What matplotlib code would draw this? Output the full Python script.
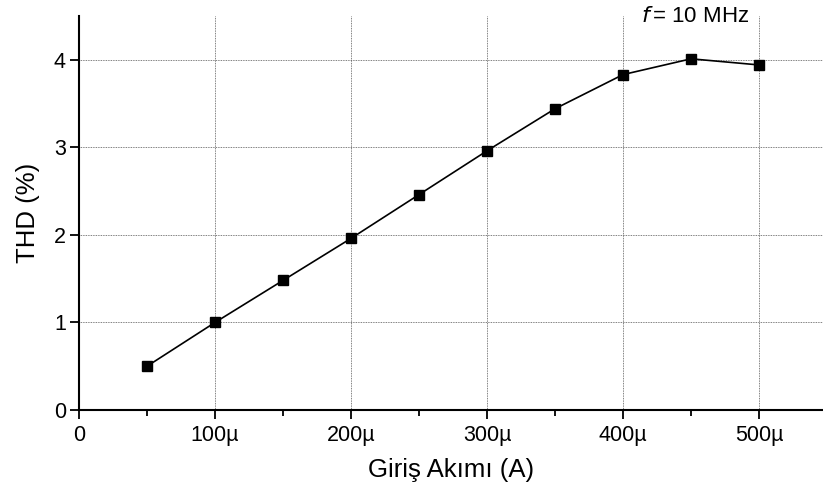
import matplotlib
matplotlib.use("Agg")
import matplotlib.pyplot as plt
from matplotlib.ticker import FuncFormatter, MultipleLocator

plt.rcParams['font.family'] = ['Liberation Sans', 'DejaVu Sans']

# input current in microamps, THD in percent
current_uA = [50, 100, 150, 200, 250, 300, 350, 400, 450, 500]
thd_pct = [0.50, 1.00, 1.48, 1.96, 2.46, 2.96, 3.44, 3.83, 4.01, 3.94]

fig = plt.figure(figsize=(8.23, 4.97), dpi=100)
ax = fig.add_axes([0.096, 0.175, 0.904, 0.793])

ax.plot(current_uA, thd_pct, color="black", lw=1.2, marker="s", ms=7,
        markerfacecolor="black", markeredgecolor="black", zorder=3)

ax.set_xlim(0, 547)
ax.set_ylim(0, 4.5)
ax.xaxis.set_major_locator(MultipleLocator(100))
ax.xaxis.set_minor_locator(MultipleLocator(50))
ax.yaxis.set_major_locator(MultipleLocator(1))
ax.xaxis.set_major_formatter(FuncFormatter(lambda v, p: "0" if v == 0 else f"{v:g}µ"))

ax.grid(True, which="major", color="#555555", ls=(0, (1, 1)), lw=0.6)
ax.set_axisbelow(True)

for s in ("top", "right"):
    ax.spines[s].set_visible(False)
for s in ("left", "bottom"):
    ax.spines[s].set_linewidth(1.5)

ax.tick_params(which="major", direction="out", length=6.5, width=1.3, labelsize=15.5, pad=3)
ax.tick_params(axis="x", which="major", pad=4)
ax.tick_params(which="minor", direction="out", length=4, width=1.3)

ax.set_xlabel("Giriş Akımı (A)", fontsize=18.5, labelpad=9)
ax.set_ylabel("THD (%)", fontsize=18.5, labelpad=10)

fig.text(0.845, 0.966, r"$\it{f}\,$" + "= 10 MHz", fontsize=16, ha="center", va="center",
         family="Liberation Sans")

fig.savefig("out.png", dpi=100)
